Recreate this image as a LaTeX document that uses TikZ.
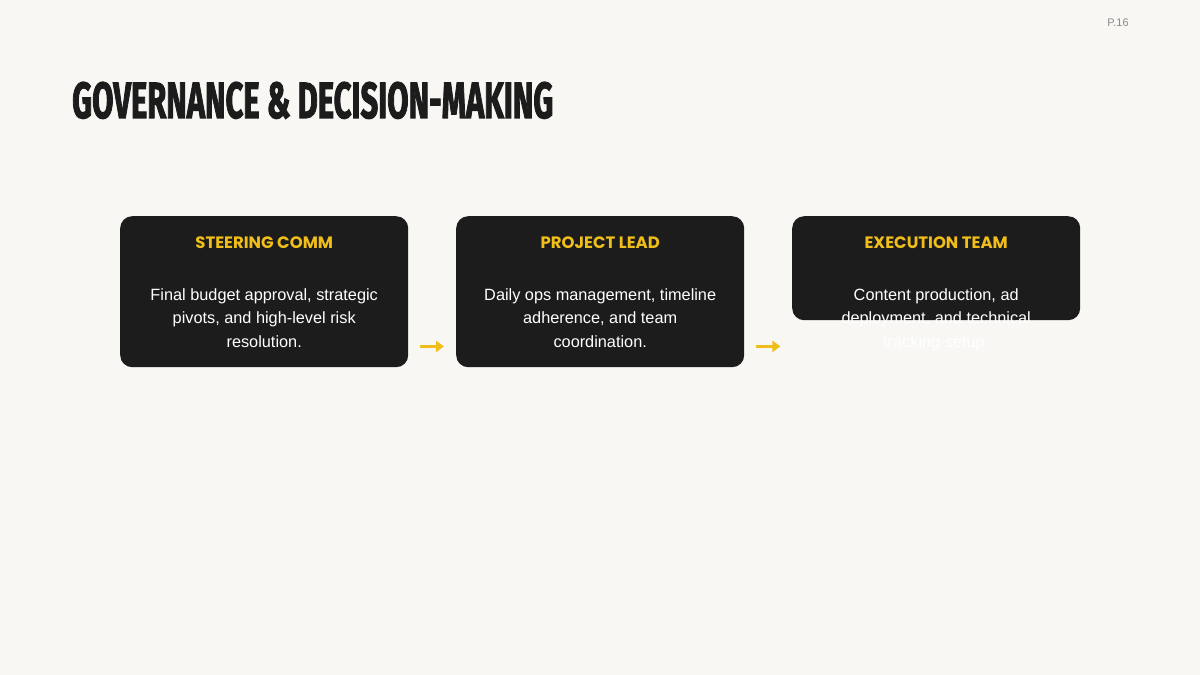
\documentclass[tikz,border=0pt]{standalone}
\usepackage{fontspec}
\usepackage{graphicx}
\setmainfont{Liberation Sans}
\newfontfamily\headfont{Poppins}
\newfontfamily\titlefont[FakeBold=2.5]{Fira Sans}
\usetikzlibrary{arrows.meta,calc}
\definecolor{paper}{HTML}{F8F7F3}
\definecolor{panel}{HTML}{1C1C1C}
\definecolor{gold}{HTML}{F0BE1A}
\definecolor{pgnum}{HTML}{8A8A8A}

\begin{document}
\begin{tikzpicture}[x=1pt,y=-1pt,
  card/.style={fill=panel,rounded corners=12pt,minimum width=288pt,anchor=north west,inner sep=0pt},
  head/.style={text=gold,font=\headfont\bfseries\fontsize{16.5}{19}\selectfont,anchor=center},
  body/.style={text=white,font=\fontsize{16.3}{23.5}\selectfont,align=center,anchor=north},
  flow/.style={gold,line width=2.6pt,-{Triangle[length=8pt,width=11pt]}}]
\useasboundingbox[fill=paper] (0,0) rectangle (1200,675);
\node[text=pgnum,font=\fontsize{11}{13}\selectfont] (pg) at (1118,23) {P.16};
\node[anchor=south west,inner sep=0pt,text=panel] (title) at (72,119)
  {\resizebox{481pt}{36pt}{\titlefont\bfseries GOVERNANCE \& DECISION-MAKING}};

% the three cards
\node[card,minimum height=151pt] (steer) at (120,216) {};
\node[card,minimum height=151pt] (lead) at (456,216) {};
\node[card,minimum height=104pt] (exec) at (792,216) {};

\node[head] (steerh) at ($(steer.north)+(0,27)$) {STEERING COMM};
\node[head] (leadh) at ($(lead.north)+(0,27)$) {PROJECT LEAD};
\node[head] (exech) at ($(exec.north)+(0,27)$) {EXECUTION TEAM};

\node[body] (steerb) at ($(steer.north)+(0,69)$) {Final budget approval, strategic\\pivots, and high-level risk\\resolution.};
\node[body] (leadb) at ($(lead.north)+(0,69)$) {Daily ops management, timeline\\adherence, and team\\coordination.};
\node[body] (execb) at ($(exec.north)+(0,69)$) {Content production, ad\\deployment, and technical\\tracking setup.};

% arrows between cards
\draw[flow] ($(steer.south east)+(12,-21)$) -- ($(lead.south west)+(-12,-21)$);
\draw[flow] ($(lead.south east)+(12,-21)$) -- ($(lead.south east)+(36,-21)$);
\end{tikzpicture}
\end{document}
